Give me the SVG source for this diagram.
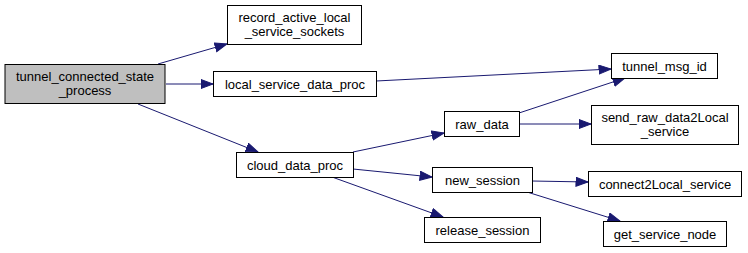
<svg xmlns="http://www.w3.org/2000/svg" width="748" height="253" viewBox="0 0 748 253">
  <style>
    .node rect { fill: #ffffff; stroke: #000000; stroke-width: 1; }
    .node.focus rect { fill: #bfbfbf; }
    .node text { font-family: "Liberation Sans", Arial, Helvetica, sans-serif; font-size: 13px; fill: #000000; text-anchor: middle; }
    .edges path { fill: none; stroke: #191970; stroke-width: 1; marker-end: url(#arrow); }
  </style>
  <defs>
    <marker id="arrow" markerUnits="userSpaceOnUse" markerWidth="14" markerHeight="11" refX="12.5" refY="5" orient="auto">
      <path d="M0.5,0.5 L12.5,5 L0.5,9.5 Z" fill="#191970" stroke="#191970" stroke-width="1"/>
    </marker>
  </defs>
  <rect width="748" height="253" fill="#ffffff"/>

  <g class="edges">
    <path d="M158,64 L227,44"/>
    <path d="M166,84 L213,84"/>
    <path d="M138,104 L258,152"/>
    <path d="M376,81 L611,69"/>
    <path d="M519,113 L625,78"/>
    <path d="M519,124 L591,124"/>
    <path d="M353,152 L444,133"/>
    <path d="M353,169 L432,177"/>
    <path d="M332,177 L443,217"/>
    <path d="M532,181 L588,182"/>
    <path d="M527,192 L620,221"/>
  </g>

  <g id="tunnel_connected_state_process" class="node focus">
    <rect x="5" y="64.5" width="160" height="39"/>
    <text x="85" y="81">tunnel_connected_state</text>
    <text x="85" y="95">_process</text>
  </g>
  <g id="record_active_local_service_sockets" class="node">
    <rect x="227.5" y="5.5" width="134" height="39"/>
    <text x="294.5" y="22">record_active_local</text>
    <text x="294.5" y="36">_service_sockets</text>
  </g>
  <g id="local_service_data_proc" class="node">
    <rect x="213.5" y="71.5" width="163" height="25"/>
    <text x="295" y="88.5">local_service_data_proc</text>
  </g>
  <g id="tunnel_msg_id" class="node">
    <rect x="611.5" y="53.5" width="106" height="25"/>
    <text x="664.5" y="70.5">tunnel_msg_id</text>
  </g>
  <g id="raw_data" class="node">
    <rect x="444.5" y="111.5" width="75" height="25"/>
    <text x="482" y="128.5">raw_data</text>
  </g>
  <g id="send_raw_data2Local_service" class="node">
    <rect x="591.5" y="105.5" width="147" height="39"/>
    <text x="665" y="122">send_raw_data2Local</text>
    <text x="665" y="136">_service</text>
  </g>
  <g id="cloud_data_proc" class="node">
    <rect x="236.5" y="152.5" width="117" height="25"/>
    <text x="295" y="169.5">cloud_data_proc</text>
  </g>
  <g id="new_session" class="node">
    <rect x="432.5" y="167.5" width="100" height="25"/>
    <text x="482.5" y="184.5">new_session</text>
  </g>
  <g id="release_session" class="node">
    <rect x="424.5" y="217.5" width="116" height="25"/>
    <text x="482.5" y="234.5">release_session</text>
  </g>
  <g id="connect2Local_service" class="node">
    <rect x="588.5" y="171.5" width="153" height="25"/>
    <text x="665" y="188.5">connect2Local_service</text>
  </g>
  <g id="get_service_node" class="node">
    <rect x="603.5" y="221.5" width="123" height="25"/>
    <text x="665" y="238.5">get_service_node</text>
  </g>
</svg>
